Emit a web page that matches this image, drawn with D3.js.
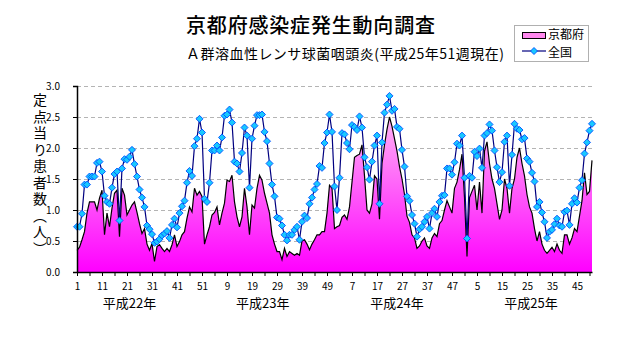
<!DOCTYPE html>
<html>
<head>
<meta charset="utf-8">
<script src="https://cdn.jsdelivr.net/npm/d3@7"></script>
<style>
  body { margin: 0; background: #fff; }
  text { font-family: "Noto Sans CJK JP", sans-serif; }
</style>
</head>
<body>
<div id="chart"></div>
<script>
// 年ごとの区切り
const yearLabels = ["平成22年", "平成23年", "平成24年", "平成25年"];
const weeksPerYear = [52, 52, 52, 51];

// 京都府 定点当り患者数
const kyotoH22 = [0.35,0.40,0.52,0.65,0.95,1.13,1.13,1.13,1.00,1.19,1.32,0.60,0.95,0.73,1.03,1.27,1.32,0.57,1.35,1.24,
  0.92,1.00,1.08,1.13,0.96,0.78,0.62,0.70,0.45,0.35,0.46,0.17,0.41,0.44,0.38,0.33,0.38,0.33,0.44,0.60,
  0.41,0.49,0.60,0.65,0.87,1.05,0.97,1.35,1.24,1.30,1.22,0.45];
const kyotoH23 = [0.60,0.73,0.92,0.96,1.05,0.76,0.95,1.11,1.48,1.46,1.56,1.13,0.89,0.73,0.89,1.35,1.05,0.60,1.08,1.03,
  1.35,1.56,1.48,1.27,1.11,0.95,0.60,0.45,0.33,0.33,0.20,0.38,0.25,0.33,0.30,0.27,0.30,0.27,0.50,0.52,
  0.45,0.36,0.45,0.52,0.60,0.60,0.65,0.65,0.95,1.40,1.35,0.70];
const kyotoH24 = [0.73,0.75,0.88,0.92,0.85,1.05,1.45,1.85,1.88,1.90,2.05,1.55,1.00,0.95,1.10,1.55,1.50,0.85,1.75,2.05,
  2.30,2.50,2.35,2.15,1.95,1.70,1.50,1.25,0.90,0.80,0.60,0.55,0.38,0.42,0.50,0.55,0.42,0.38,0.55,0.62,
  0.57,0.78,0.83,1.00,1.15,1.05,0.95,1.35,1.45,1.65,1.90,1.20];
const kyotoH25 = [0.25,1.20,1.30,1.40,1.00,1.45,0.95,1.95,2.10,1.75,1.50,1.35,1.10,0.85,1.00,1.50,1.35,0.95,1.35,1.50,
  1.85,2.00,1.75,1.55,1.25,1.05,0.95,0.70,0.50,0.65,0.45,0.35,0.30,0.35,0.40,0.33,0.45,0.35,0.30,0.60,
  0.60,0.45,0.55,0.70,0.65,0.90,1.15,1.60,1.25,1.30,1.80];

// 全国 定点当り患者数
const nationalH22 = [0.73,0.73,0.94,1.41,1.41,1.54,1.54,1.54,1.76,1.78,1.62,1.23,1.13,1.10,1.36,1.58,1.62,0.83,1.67,1.82,
  1.81,1.86,1.97,1.74,1.54,1.33,1.20,1.05,0.75,0.69,0.61,0.47,0.49,0.53,0.59,0.62,0.66,0.55,0.76,0.86,
  0.72,0.95,1.06,1.15,1.44,1.63,1.55,2.03,2.15,2.47,2.25,1.18];
const nationalH23 = [1.13,1.44,1.96,1.96,2.04,1.96,2.17,2.52,2.54,2.62,2.41,1.78,1.75,1.62,1.92,2.33,2.20,1.36,2.15,2.36,
  2.53,2.53,2.54,2.26,2.11,1.75,1.41,1.22,0.88,0.86,0.75,0.60,0.51,0.60,0.60,0.68,0.73,0.52,0.81,0.91,
  0.87,1.10,1.20,1.33,1.42,1.71,1.68,2.08,2.25,2.54,2.26,1.38];
const nationalH24 = [1.00,1.52,2.24,2.22,2.08,1.98,2.37,2.34,2.29,2.51,2.33,1.85,1.69,1.49,1.78,2.04,2.20,1.10,2.09,2.57,
  2.70,2.84,2.60,2.63,2.34,2.31,1.97,1.70,1.22,1.15,0.92,0.78,0.57,0.69,0.73,0.81,0.89,0.70,0.95,1.02,
  0.89,1.13,1.23,1.24,1.67,1.67,1.57,1.77,2.07,2.04,2.20,1.52];
const nationalH25 = [0.54,1.55,1.52,1.94,1.87,1.99,1.68,2.20,2.24,2.38,2.28,1.96,1.69,1.45,1.61,2.10,2.20,1.39,1.89,2.39,
  2.31,2.29,2.14,2.16,1.83,1.78,1.60,1.46,1.05,1.13,0.96,0.81,0.55,0.65,0.68,0.77,0.86,0.75,0.73,0.97,
  0.99,0.76,1.10,1.19,1.12,1.36,1.48,1.91,2.09,2.28,2.39];

const yTicks = [0, 0.5, 1.0, 1.5, 2.0, 2.5, 3.0];
const yTitle = "定点当り患者数（人）";
const seriesNames = ["京都府", "全国"];

const kyotoByYear = [kyotoH22, kyotoH23, kyotoH24, kyotoH25];
const nationalByYear = [nationalH22, nationalH23, nationalH24, nationalH25];

// 通し番号つきの行にまとめる
const rows = [];
let idx = 0;
weeksPerYear.forEach(function(n, yi) {
    for (let w = 0; w < n; w++) {
        rows.push({ idx: idx, year: yi, week: w + 1,
                    kyoto: kyotoByYear[yi][w], national: nationalByYear[yi][w] });
        idx++;
    }
});
const lastIdx = rows.length - 1;

const W = 632, H = 348;
const plot = { left: 77, right: 592, top: 86, bottom: 272 };

const svg = d3.select("#chart").append("svg")
    .attr("width", W).attr("height", H)
    .style("background", "#fff");

const x = d3.scaleLinear().domain([0, lastIdx]).range([plot.left, plot.right]);
const y = d3.scaleLinear().domain([0, 3]).range([plot.bottom, plot.top]);

// グラデーション
const defs = svg.append("defs");
const grad = defs.append("linearGradient")
    .attr("id", "pinkGrad")
    .attr("gradientUnits", "userSpaceOnUse")
    .attr("x1", 0).attr("x2", 0)
    .attr("y1", y(2.6)).attr("y2", y(0));
grad.append("stop").attr("offset", "0%").attr("stop-color", "#ffb8f4");
grad.append("stop").attr("offset", "100%").attr("stop-color", "#ff00ff");

// 目盛線 (破線)
svg.append("g")
    .selectAll("line")
    .data(yTicks.filter(d => d > 0))
    .enter()
    .append("line")
        .attr("x1", plot.left).attr("x2", plot.right)
        .attr("y1", d => y(d) + 0.5).attr("y2", d => y(d) + 0.5)
        .attr("stroke", "#b4b4b4")
        .attr("stroke-dasharray", "4,3");

// 京都府 (面)
const area = d3.area()
    .x(d => x(d.idx))
    .y0(y(0))
    .y1(d => y(d.kyoto));
svg.append("path")
    .datum(rows)
    .attr("d", area)
    .attr("fill", "url(#pinkGrad)");

svg.append("path")
    .datum(rows)
    .attr("d", d3.line().x(d => x(d.idx)).y(d => y(d.kyoto)))
    .attr("fill", "none")
    .attr("stroke", "#000")
    .attr("stroke-width", 1.2);

// 全国 (折れ線 + マーカー)
svg.append("path")
    .datum(rows)
    .attr("d", d3.line().x(d => x(d.idx)).y(d => y(d.national)))
    .attr("fill", "none")
    .attr("stroke", "#000080")
    .attr("stroke-width", 1.2);

const diamond = "M0,-3.5L3.5,0L0,3.5L-3.5,0Z";
svg.append("g")
    .selectAll("path")
    .data(rows)
    .enter()
    .append("path")
        .attr("d", diamond)
        .attr("transform", d => "translate(" + x(d.idx) + "," + y(d.national) + ")")
        .attr("fill", "#18c8ff")
        .attr("stroke", "#0050ff")
        .attr("stroke-width", 0.9);

// Y軸
const yAxis = svg.append("g")
    .attr("transform", "translate(" + plot.left + ",0)")
    .call(d3.axisLeft(y).tickValues(yTicks).tickFormat(d3.format(".1f")).tickSize(4).tickPadding(13));
yAxis.selectAll("text").style("font-size", "10px").attr("fill", "#000");
yAxis.select("path.domain").attr("stroke", "#000").attr("stroke-width", 1.5);

// X軸 (5週ごとの目盛、10週ごとのラベル)
const xTickIdx = d3.range(0, lastIdx + 1, 5);
const xAxis = svg.append("g")
    .attr("transform", "translate(0," + plot.bottom + ")")
    .call(d3.axisBottom(x).tickValues(xTickIdx).tickSize(4).tickSizeOuter(0)
        .tickFormat(i => i % 10 === 0 ? rows[i].week : ""));
xAxis.selectAll("text").style("font-size", "10px").attr("fill", "#000").attr("dy", "1.05em");
xAxis.select("path.domain").attr("stroke", "#000").attr("stroke-width", 1.5);

// 年ラベル
const yearPos = [21, 74.3, 128, 181.6];
svg.append("g")
    .selectAll("text")
    .data(yearLabels)
    .enter()
    .append("text")
        .attr("x", (d, i) => x(yearPos[i]))
        .attr("y", 308)
        .attr("text-anchor", "middle")
        .style("font-size", "13px")
        .text(d => d);

// Y軸タイトル (縦書き)
svg.append("text")
    .attr("x", 40)
    .attr("y", 93)
    .style("writing-mode", "vertical-rl")
    .style("text-orientation", "upright")
    .style("font-size", "14px")
    .style("letter-spacing", "2.5px")
    .text(yTitle);

// タイトル
svg.append("text")
    .attr("x", 186).attr("y", 33)
    .attr("textLength", 249)
    .attr("lengthAdjust", "spacing")
    .style("font-size", "20px")
    .style("font-weight", "500")
    .text("京都府感染症発生動向調査");

svg.append("text")
    .attr("x", 186).attr("y", 59)
    .attr("textLength", 318)
    .attr("lengthAdjust", "spacing")
    .style("font-size", "14px")
    .text("Ａ群溶血性レンサ球菌咽頭炎(平成25年51週現在)");

// 凡例
const legend = svg.append("g");
legend.append("rect")
    .attr("x", 514.5).attr("y", 25.5).attr("width", 74).attr("height", 36)
    .attr("fill", "#fff").attr("stroke", "#b0b0b0");
legend.append("rect")
    .attr("x", 522.5).attr("y", 32.5).attr("width", 23).attr("height", 6)
    .attr("fill", "#ff88ee").attr("stroke", "#000");
legend.append("line")
    .attr("x1", 522).attr("x2", 546).attr("y1", 51).attr("y2", 51)
    .attr("stroke", "#000080").attr("stroke-width", 1.2);
legend.append("path")
    .attr("d", diamond)
    .attr("transform", "translate(534,51)")
    .attr("fill", "#18c8ff").attr("stroke", "#0050ff").attr("stroke-width", 0.9);
legend.selectAll("text.lbl")
    .data(seriesNames)
    .enter()
    .append("text")
        .attr("class", "lbl")
        .attr("x", 548)
        .attr("y", (d, i) => i === 0 ? 39.2 : 56.8)
        .style("font-size", "12px")
        .text(d => d);
</script>
</body>
</html>
